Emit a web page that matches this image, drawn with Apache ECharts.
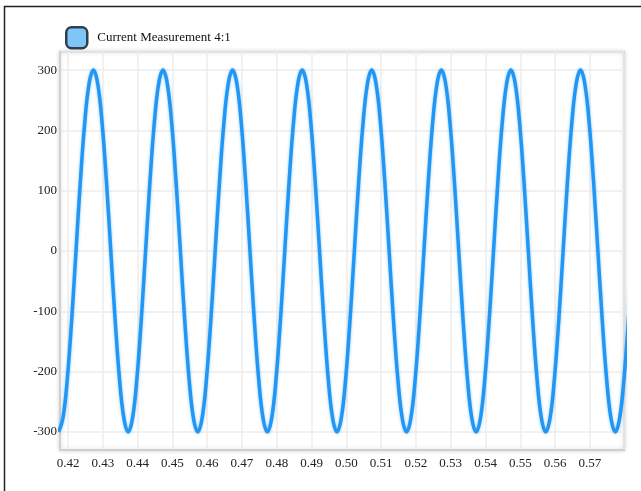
<!DOCTYPE html>
<html>
<head>
<meta charset="utf-8">
<script src="https://cdn.jsdelivr.net/npm/echarts@6/dist/echarts.min.js"></script>
<style>
html,body{margin:0;padding:0;background:#fff;}
#chart{width:641px;height:491px;}
</style>
</head>
<body>
<div id="chart"></div>
<script>
const seriesName = 'Current Measurement 4:1';

const times = [
  0.41730,0.41855,0.41980,0.42105,0.42230,0.42355,0.42480,0.42605,0.42730,0.42855,0.42980,0.43105,0.43230,0.43355,0.43480,0.43605,
  0.43730,0.43855,0.43980,0.44105,0.44230,0.44355,0.44480,0.44605,0.44730,0.44855,0.44980,0.45105,0.45230,0.45355,0.45480,0.45605,
  0.45730,0.45855,0.45980,0.46105,0.46230,0.46355,0.46480,0.46605,0.46730,0.46855,0.46980,0.47105,0.47230,0.47355,0.47480,0.47605,
  0.47730,0.47855,0.47980,0.48105,0.48230,0.48355,0.48480,0.48605,0.48730,0.48855,0.48980,0.49105,0.49230,0.49355,0.49480,0.49605,
  0.49730,0.49855,0.49980,0.50105,0.50230,0.50355,0.50480,0.50605,0.50730,0.50855,0.50980,0.51105,0.51230,0.51355,0.51480,0.51605,
  0.51730,0.51855,0.51980,0.52105,0.52230,0.52355,0.52480,0.52605,0.52730,0.52855,0.52980,0.53105,0.53230,0.53355,0.53480,0.53605,
  0.53730,0.53855,0.53980,0.54105,0.54230,0.54355,0.54480,0.54605,0.54730,0.54855,0.54980,0.55105,0.55230,0.55355,0.55480,0.55605,
  0.55730,0.55855,0.55980,0.56105,0.56230,0.56355,0.56480,0.56605,0.56730,0.56855,0.56980,0.57105,0.57230,0.57355,0.57480,0.57605,
  0.57730,0.57855,0.57980,0.58105,0.58230
];

const current = [
  -300,-277,-212,-115,0,115,212,277,300,277,212,115,0,-115,-212,-277,
  -300,-277,-212,-115,0,115,212,277,300,277,212,115,0,-115,-212,-277,
  -300,-277,-212,-115,0,115,212,277,300,277,212,115,0,-115,-212,-277,
  -300,-277,-212,-115,0,115,212,277,300,277,212,115,0,-115,-212,-277,
  -300,-277,-212,-115,0,115,212,277,300,277,212,115,0,-115,-212,-277,
  -300,-277,-212,-115,0,115,212,277,300,277,212,115,0,-115,-212,-277,
  -300,-277,-212,-115,0,115,212,277,300,277,212,115,0,-115,-212,-277,
  -300,-277,-212,-115,0,115,212,277,300,277,212,115,0,-115,-212,-277,
  -300,-277,-212,-115,0
];

const xMin = 0.4177, xMax = 0.5798;
const yMin = -330, yMax = 330;

const points = times.map((t, i) => [t, current[i]]);

const chart = echarts.init(document.getElementById('chart'), null, {renderer: 'canvas'});
const serif = '"Liberation Serif", "DejaVu Serif", serif';

chart.setOption({
  animation: false,
  backgroundColor: '#ffffff',
  graphic: [{
    type: 'rect',
    shape: {x: 4.5, y: 6.5, width: 700, height: 600},
    style: {fill: 'none', stroke: '#222', lineWidth: 1.5},
    silent: true, z: 100
  }],
  legend: {
    left: 60, top: 21,
    itemWidth: 21, itemHeight: 21,
    textStyle: {fontFamily: serif, fontSize: 13, color: '#111', padding: [0, 0, 0, 5]},
    data: [{
      name: seriesName,
      icon: 'roundRect',
      itemStyle: {color: '#7fc6f6', borderColor: '#2f3e4c', borderWidth: 2.5}
    }]
  },
  grid: {
    left: 60, right: 17, top: 52, bottom: 41,
    show: true,
    backgroundColor: '#fff',
    borderColor: '#c4c4c4',
    borderWidth: 2,
    shadowBlur: 4,
    shadowColor: 'rgba(0,0,0,0.15)'
  },
  xAxis: {
    type: 'value',
    min: xMin, max: xMax,
    splitNumber: 15,
    axisLine: {show: true, onZero: false, lineStyle: {color: '#d0d0d0', width: 2}},
    axisTick: {show: false},
    axisLabel: {
      margin: 7,
      fontFamily: serif, fontSize: 13, color: '#222',
      showMinLabel: false, showMaxLabel: false,
      formatter: v => v.toFixed(2)
    },
    splitLine: {show: true, lineStyle: {color: '#ececec', width: 1.5}}
  },
  yAxis: {
    type: 'value',
    min: yMin, max: yMax,
    splitNumber: 6,
    axisLine: {show: true, onZero: false, lineStyle: {color: '#d0d0d0', width: 2}},
    axisTick: {show: false},
    axisLabel: {
      margin: 3,
      fontFamily: serif, fontSize: 13, color: '#222',
      showMinLabel: false, showMaxLabel: false
    },
    splitLine: {show: true, lineStyle: {color: '#ececec', width: 1.5}}
  },
  series: [{
    name: seriesName,
    type: 'line',
    data: points,
    smooth: 0.4,
    showSymbol: false,
    clip: true,
    lineStyle: {color: '#2196f3', width: 3.5, shadowBlur: 3, shadowColor: 'rgba(33,150,243,0.5)'},
    itemStyle: {color: '#2196f3'}
  }]
});
</script>
</body>
</html>
